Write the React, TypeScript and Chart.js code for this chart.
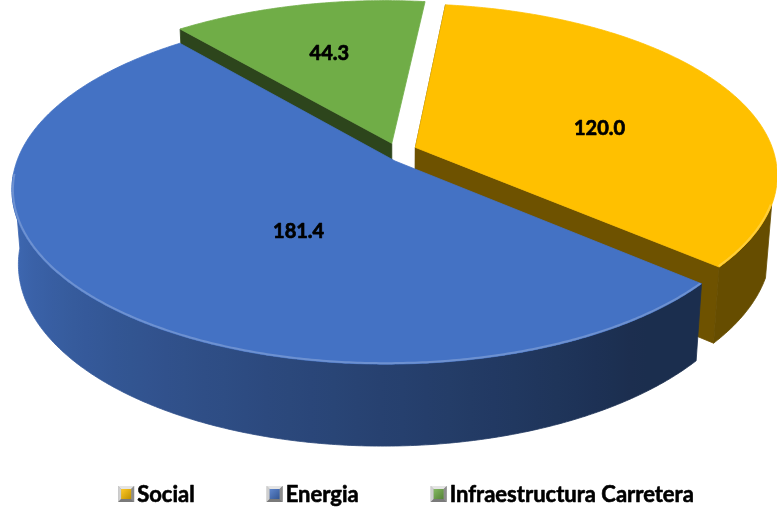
import React, { useEffect, useRef } from 'react';
import { Chart, registerables } from 'chart.js';

Chart.register(...registerables);

// ---------- data ----------
const categories = ['Social', 'Energia', 'Infraestructura Carretera'];
const values = [120.0, 181.4, 44.3];
const explodeFractions = [0.1, 0, 0.05];
const sliceColors = ['#FFC000', '#4472C4', '#70AD47'];

// ---------- view / style ----------
const START_ROTATION = 6;
const VIEW = { cx: 395, cy: 161, sx: 2083, sy: 2192, dist: 5.63, tiltDeg: 26, yaw: 0.12, thickness: 0.21 };
const EXPLODE_SCALE = { u: 0.6, v: 2.2 };
const LABEL_FONT = "bold 20px Lato, 'Open Sans', sans-serif";
const LEGEND_FONT = "bold 22px Lato, 'Open Sans', sans-serif";
const LEGEND = { cx: 406, cy: 495, icon: 16, iconGap: 3, itemGap: 72 };

const TILT = (VIEW.tiltDeg * Math.PI) / 180;
const CT = Math.cos(TILT);
const ST = Math.sin(TILT);

function hexToRgb(hex: string) {
  const n = parseInt(hex.slice(1), 16);
  return [(n >> 16) & 255, (n >> 8) & 255, n & 255];
}
function shade(hex: string, f: number) {
  const [r, g, b] = hexToRgb(hex);
  return `rgb(${Math.round(r * f)},${Math.round(g * f)},${Math.round(b * f)})`;
}
function tint(hex: string, t: number) {
  const [r, g, b] = hexToRgb(hex);
  return `rgb(${Math.round(r + (255 - r) * t)},${Math.round(g + (255 - g) * t)},${Math.round(b + (255 - b) * t)})`;
}

function project(u: number, v: number, h: number) {
  const w = VIEW.dist - (v * CT + h * ST) + u * VIEW.yaw;
  const up = h * CT - v * ST;
  return { x: VIEW.cx + (VIEW.sx * u) / w, y: VIEW.cy - (VIEW.sy * up) / w, w };
}

function wallFactor(a: number) {
  let deg = (a * 180) / Math.PI;
  deg = ((deg % 360) + 360) % 360;
  const f = 0.4 + ((deg - 55) / 113) * 0.53;
  return Math.max(0.4, Math.min(0.95, f));
}

type Pt = { x: number; y: number; w: number };

function polyPath(ctx: CanvasRenderingContext2D, pts: Pt[]) {
  ctx.beginPath();
  pts.forEach((p, k) => (k === 0 ? ctx.moveTo(p.x, p.y) : ctx.lineTo(p.x, p.y)));
  ctx.closePath();
}

function centroid(pts: Pt[]) {
  let a = 0, cx = 0, cy = 0;
  for (let k = 0; k < pts.length; k++) {
    const p = pts[k], q = pts[(k + 1) % pts.length];
    const cr = p.x * q.y - q.x * p.y;
    a += cr;
    cx += (p.x + q.x) * cr;
    cy += (p.y + q.y) * cr;
  }
  a /= 2;
  return { x: cx / (6 * a), y: cy / (6 * a) };
}

function drawLegendIcon(ctx: CanvasRenderingContext2D, x: number, y: number, s: number, color: string) {
  const b = 3;
  ctx.save();
  ctx.fillStyle = '#A6A6A6';
  ctx.fillRect(x, y, s, s);
  const quad = (pts: number[][], c: string) => {
    ctx.beginPath();
    pts.forEach((p, k) => (k === 0 ? ctx.moveTo(p[0], p[1]) : ctx.lineTo(p[0], p[1])));
    ctx.closePath();
    ctx.fillStyle = c;
    ctx.fill();
  };
  quad([[x, y], [x + s, y], [x + s - b, y + b], [x + b, y + b]], '#E4E4E4');
  quad([[x, y], [x + b, y + b], [x + b, y + s - b], [x, y + s]], '#CFCFCF');
  quad([[x + s, y], [x + s, y + s], [x + s - b, y + s - b], [x + s - b, y + b]], '#8C8C8C');
  quad([[x, y + s], [x + b, y + s - b], [x + s - b, y + s - b], [x + s, y + s]], '#7A7A7A');
  const g = ctx.createLinearGradient(x + b, y + b, x + s - b, y + s - b);
  g.addColorStop(0, tint(color, 0.15));
  g.addColorStop(1, shade(color, 0.75));
  ctx.fillStyle = g;
  ctx.fillRect(x + b, y + b, s - 2 * b, s - 2 * b);
  ctx.restore();
}

const pie3dPlugin = {
  id: 'pie3d',
  beforeDatasetsDraw(chart: any) {
    const ctx: CanvasRenderingContext2D = chart.ctx;
    const meta = chart.getDatasetMeta(0);
    const T = VIEW.thickness;
    const camU = -VIEW.dist * VIEW.yaw;
    const camV = VIEW.dist * CT;
    const faces: { depth: number; draw: () => void }[] = [];

    const slices = meta.data.map((arc: any, i: number) => {
      const a0 = arc.startAngle, a1 = arc.endAngle;
      const mid = (a0 + a1) / 2;
      const e = explodeFractions[i] || 0;
      const ou = e * Math.cos(mid) * EXPLODE_SCALE.u;
      const ov = e * Math.sin(mid) * EXPLODE_SCALE.v;
      const n = Math.max(2, Math.ceil((a1 - a0) / (Math.PI / 360)));
      const angles: number[] = [];
      for (let k = 0; k <= n; k++) angles.push(a0 + ((a1 - a0) * k) / n);
      const color = sliceColors[i];
      const rim = (a: number, h: number) => project(ou + Math.cos(a), ov + Math.sin(a), h);
      const apex = (h: number) => project(ou, ov, h);
      const visible = (a: number) =>
        (camU - ou) * Math.cos(a) + (camV - ov) * Math.sin(a) - 1 > 0;

      const runs: number[][] = [];
      let cur: number[] = [];
      angles.forEach((a) => {
        if (visible(a)) cur.push(a);
        else if (cur.length) { runs.push(cur); cur = []; }
      });
      if (cur.length) runs.push(cur);

      runs.forEach((run) => {
        if (run.length < 2) return;
        const topPts = run.map((a) => rim(a, 0));
        const botPts = run.map((a) => rim(a, -T)).reverse();
        const depth = topPts.reduce((s, p) => s + p.w, 0) / topPts.length;
        faces.push({
          depth,
          draw: () => {
            const xs = topPts.map((p) => p.x);
            const xmin = Math.min(...xs), xmax = Math.max(...xs);
            const g = ctx.createLinearGradient(xmin, 0, xmax + 0.001, 0);
            const step = Math.max(1, Math.floor(run.length / 40));
            for (let k = 0; k < run.length; k += step) {
              const t = (topPts[k].x - xmin) / (xmax - xmin + 0.001);
              g.addColorStop(Math.max(0, Math.min(1, t)), shade(color, wallFactor(run[k])));
            }
            polyPath(ctx, [...topPts, ...botPts]);
            ctx.fillStyle = g;
            ctx.fill();
            ctx.strokeStyle = g;
            ctx.lineWidth = 0.8;
            ctx.stroke();
          },
        });
      });

      const cut = (a: number, nu: number, nv: number) => {
        const vis = (camU - ou) * nu + (camV - ov) * nv > 0;
        if (!vis) return;
        const pts = [apex(0), rim(a, 0), rim(a, -T), apex(-T)];
        const depth = pts.reduce((s, p) => s + p.w, 0) / pts.length;
        const c = shade(color, 0.6 + 0.26 * nu);
        faces.push({
          depth,
          draw: () => {
            polyPath(ctx, pts);
            ctx.fillStyle = c;
            ctx.fill();
            ctx.strokeStyle = c;
            ctx.lineWidth = 0.8;
            ctx.stroke();
          },
        });
      };
      cut(a0, Math.sin(a0), -Math.cos(a0));
      cut(a1, -Math.sin(a1), Math.cos(a1));

      const topPoly = [apex(0), ...angles.map((a) => rim(a, 0))];
      const rimRuns = runs.map((run) => run.map((a) => rim(a, 0)));
      return { i, color, topPoly, rimRuns };
    });

    ctx.save();
    faces.sort((a, b) => b.depth - a.depth).forEach((f) => f.draw());

    slices.forEach((s: any) => {
      polyPath(ctx, s.topPoly);
      ctx.fillStyle = s.color;
      ctx.fill();
      ctx.strokeStyle = s.color;
      ctx.lineWidth = 0.8;
      ctx.stroke();
      ctx.save();
      polyPath(ctx, s.topPoly);
      ctx.clip();
      ctx.strokeStyle = tint(s.color, 0.22);
      ctx.lineWidth = 4;
      s.rimRuns.forEach((pts: Pt[]) => {
        ctx.beginPath();
        pts.forEach((p, k) => (k === 0 ? ctx.moveTo(p.x, p.y) : ctx.lineTo(p.x, p.y)));
        ctx.stroke();
      });
      ctx.restore();
    });

    ctx.font = LABEL_FONT;
    ctx.fillStyle = '#000000';
    ctx.strokeStyle = '#000000';
    ctx.lineWidth = 0.7;
    ctx.lineJoin = 'round';
    ctx.textAlign = 'center';
    ctx.textBaseline = 'middle';
    slices.forEach((s: any) => {
      const c = centroid(s.topPoly);
      const txt = values[s.i].toFixed(1);
      ctx.fillText(txt, c.x, c.y);
      ctx.strokeText(txt, c.x, c.y);
    });
    ctx.restore();
    return false;
  },
  afterDraw(chart: any) {
    const ctx: CanvasRenderingContext2D = chart.ctx;
    let items: { text: string; color: string }[] = [];
    try {
      const gen = chart.options.plugins.legend.labels.generateLabels;
      items = gen(chart).map((it: any) => ({ text: it.text, color: it.fillStyle }));
    } catch (e) {
      items = categories.map((c, i) => ({ text: c, color: sliceColors[i] }));
    }
    ctx.save();
    ctx.font = LEGEND_FONT;
    ctx.textBaseline = 'middle';
    ctx.textAlign = 'left';
    ctx.strokeStyle = '#000000';
    ctx.lineWidth = 0.6;
    ctx.lineJoin = 'round';
    const widths = items.map((it) => ctx.measureText(it.text).width);
    const total =
      widths.reduce((s, w) => s + w + LEGEND.icon + LEGEND.iconGap, 0) + LEGEND.itemGap * (items.length - 1);
    let x = LEGEND.cx - total / 2;
    items.forEach((it, k) => {
      drawLegendIcon(ctx, x, LEGEND.cy - LEGEND.icon / 2 - 1, LEGEND.icon, it.color);
      ctx.fillStyle = '#000000';
      ctx.fillText(it.text, x + LEGEND.icon + LEGEND.iconGap, LEGEND.cy);
      ctx.strokeText(it.text, x + LEGEND.icon + LEGEND.iconGap, LEGEND.cy);
      x += LEGEND.icon + LEGEND.iconGap + widths[k] + LEGEND.itemGap;
    });
    ctx.restore();
  },
};

export default function App() {
  const ref = useRef<HTMLCanvasElement | null>(null);
  useEffect(() => {
    if (!ref.current) return;
    const chart = new Chart(ref.current, {
      type: 'pie',
      data: {
        labels: categories,
        datasets: [{ data: values, backgroundColor: sliceColors, borderWidth: 0 }],
      },
      options: {
        responsive: false,
        animation: false,
        rotation: START_ROTATION,
        events: [],
        plugins: { legend: { display: false }, tooltip: { enabled: false } },
      },
      plugins: [pie3dPlugin as any],
    });
    return () => chart.destroy();
  }, []);
  return (
    <div style={{ position: 'fixed', left: 0, top: 0, width: 777, height: 510, background: '#ffffff' }}>
      <canvas ref={ref} width={777} height={510} style={{ width: 777, height: 510, display: 'block' }} />
    </div>
  );
}
